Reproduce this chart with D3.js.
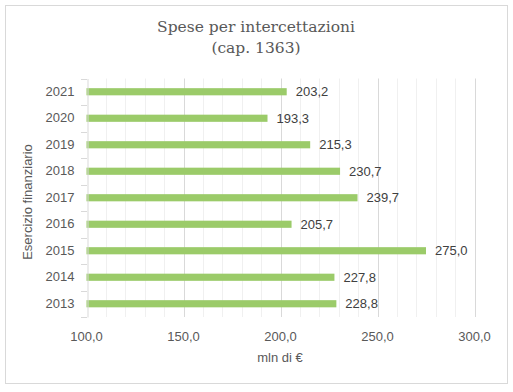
<!DOCTYPE html>
<html>
<head>
<meta charset="utf-8">
<script src="https://cdn.jsdelivr.net/npm/d3@7"></script>
<style>
  body { margin: 0; background: #fff; }
  text { font-family: "Liberation Sans", Arial, sans-serif; }
  text.title { font-family: "DejaVu Serif", "Liberation Serif", serif; }
</style>
</head>
<body>
<div id="chart"></div>
<script>
var width = 513,
    height = 392;

// data
var years = ["2013", "2014", "2015", "2016", "2017", "2018", "2019", "2020", "2021"];
var spese = [228.8, 227.8, 275.0, 205.7, 239.7, 230.7, 215.3, 193.3, 203.2];
var xTicks = [100, 150, 200, 250, 300];
var minorTicks = d3.range(100, 301, 10);

var titleLines = ["Spese per intercettazioni", "(cap. 1363)"];
var yTitle = "Esercizio finanziario",
    xTitle = "mln di €";

var margin = {left: 86.5, right: 474.5, top: 78.5, bottom: 317};

var fmt = function(v) { return d3.format(".1f")(v).replace(".", ","); };

var svg = d3.select("#chart").append("svg")
  .attr("width", width)
  .attr("height", height);

svg.append("rect")
  .attr("x", 5.5).attr("y", 5.5)
  .attr("width", 502).attr("height", 378)
  .attr("fill", "#fff")
  .attr("stroke", "#d9d9d9");

var x = d3.scaleLinear()
  .domain([100, 300])
  .range([margin.left, margin.right]);

var y = d3.scaleBand()
  .domain(years.slice().reverse())
  .range([margin.top, margin.bottom])
  .paddingInner(0.73)
  .paddingOuter(0.365);

// gridlines
svg.append("g").selectAll("line.minor")
  .data(minorTicks.filter(function(d) { return d % 50 != 0; }))
  .join("line")
  .attr("x1", function(d) { return Math.round(x(d)) + 0.5; })
  .attr("x2", function(d) { return Math.round(x(d)) + 0.5; })
  .attr("y1", margin.top).attr("y2", margin.bottom)
  .attr("stroke", "#f0f0f0");

svg.append("g").selectAll("line.major")
  .data(xTicks.slice(1))
  .join("line")
  .attr("x1", function(d) { return Math.round(x(d)) + 0.5; })
  .attr("x2", function(d) { return Math.round(x(d)) + 0.5; })
  .attr("y1", margin.top).attr("y2", margin.bottom)
  .attr("stroke", "#d9d9d9");

// bars
var rows = years.map(function(yr, i) { return {year: yr, value: spese[i]}; });

svg.append("g").selectAll("rect")
  .data(rows)
  .join("rect")
  .attr("x", x(100))
  .attr("y", function(d) { return y(d.year); })
  .attr("width", function(d) { return x(d.value) - x(100); })
  .attr("height", y.bandwidth())
  .attr("fill", "#9bcb69");

svg.append("g").selectAll("text")
  .data(rows)
  .join("text")
  .attr("x", function(d) { return x(d.value) + 9; })
  .attr("y", function(d) { return y(d.year) + y.bandwidth() / 2; })
  .attr("dy", "0.35em")
  .attr("font-size", 13)
  .attr("fill", "#404040")
  .text(function(d) { return fmt(d.value); });

// y axis
var yAxis = svg.append("g")
  .attr("transform", "translate(" + (Math.round(margin.left) + 0.5) + ",0)")
  .call(d3.axisLeft(y).tickSize(0).tickPadding(13));
yAxis.select(".domain").attr("stroke", "#d9d9d9");
yAxis.selectAll("text").attr("font-size", 13).attr("fill", "#595959");

var step = y.step();
svg.append("g").selectAll("line")
  .data(d3.range(years.length + 1))
  .join("line")
  .attr("x1", 81).attr("x2", 87)
  .attr("y1", function(i) { return Math.round(margin.top + i * step) + 0.5; })
  .attr("y2", function(i) { return Math.round(margin.top + i * step) + 0.5; })
  .attr("stroke", "#d9d9d9");

// x tick labels
svg.append("g").selectAll("text")
  .data(xTicks)
  .join("text")
  .attr("x", function(d) { return x(d); })
  .attr("y", 336)
  .attr("dy", "0.35em")
  .attr("text-anchor", "middle")
  .attr("font-size", 13)
  .attr("fill", "#595959")
  .text(fmt);

// axis titles
svg.append("text")
  .attr("x", 280).attr("y", 357)
  .attr("dy", "0.35em")
  .attr("text-anchor", "middle")
  .attr("font-size", 13)
  .attr("fill", "#595959")
  .text(xTitle);

svg.append("text")
  .attr("transform", "translate(27,202) rotate(-90)")
  .attr("dy", "0.35em")
  .attr("text-anchor", "middle")
  .attr("font-size", 13)
  .attr("fill", "#595959")
  .text(yTitle);

// title
svg.append("g").selectAll("text")
  .data(titleLines)
  .join("text")
  .attr("class", "title")
  .attr("x", 256)
  .attr("y", function(d, i) { return 27 + i * 21; })
  .attr("dy", "0.35em")
  .attr("text-anchor", "middle")
  .attr("font-size", 15.5)
  .attr("fill", "#595959")
  .text(function(d) { return d; });
</script>
</body>
</html>
